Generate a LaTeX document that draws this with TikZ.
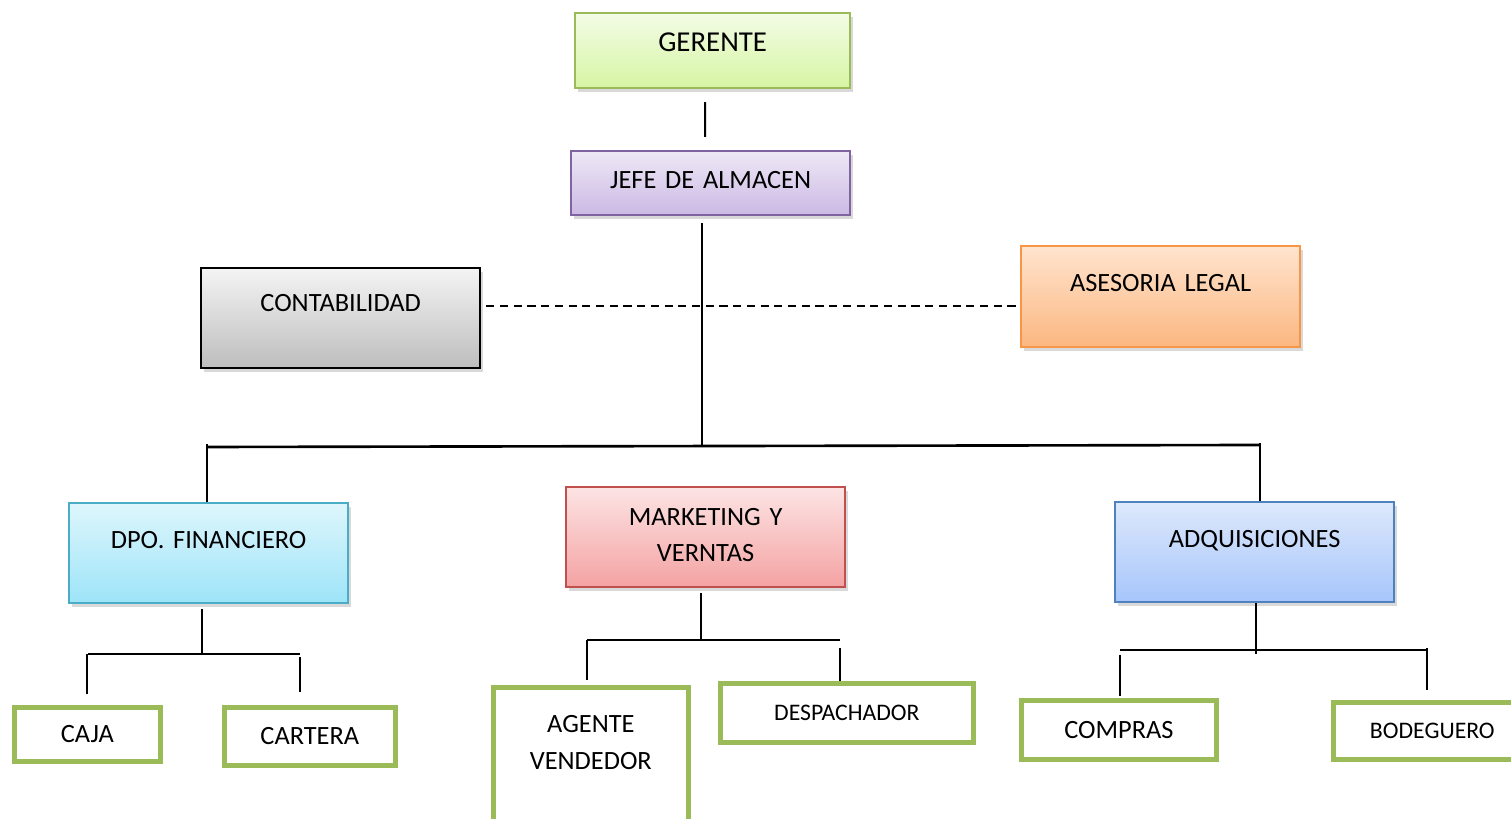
\documentclass[tikz,border=0pt]{standalone}
\usepackage{fontspec}
\setmainfont{Carlito}
\usepackage{tikz}
\usetikzlibrary{shadows}

\definecolor{gerA}{HTML}{F3FCE6}
\definecolor{gerB}{HTML}{D6F5A3}
\definecolor{gerC}{HTML}{9BBB59}
\definecolor{jefA}{HTML}{EEE8F6}
\definecolor{jefB}{HTML}{CBB9E4}
\definecolor{jefC}{HTML}{8064A2}
\definecolor{conA}{HTML}{F4F4F4}
\definecolor{conB}{HTML}{BDBDBD}
\definecolor{aseA}{HTML}{FFE4CE}
\definecolor{aseB}{HTML}{FBB781}
\definecolor{aseC}{HTML}{F79646}
\definecolor{finA}{HTML}{DEF6FC}
\definecolor{finB}{HTML}{9DE4F8}
\definecolor{finC}{HTML}{4BACC6}
\definecolor{mktA}{HTML}{FDE4E4}
\definecolor{mktB}{HTML}{F4A2A2}
\definecolor{mktC}{HTML}{C0504D}
\definecolor{adqA}{HTML}{DDE8FB}
\definecolor{adqB}{HTML}{A6C6FB}
\definecolor{adqC}{HTML}{4F81BD}
\definecolor{verde}{HTML}{9BBB59}

\begin{document}
\begin{tikzpicture}[x=0.01cm, y=-0.01cm,
	cargo/.style={draw, anchor=north west, align=center, inner xsep=0pt, text height=0.2cm,
		font=\fontsize{7.5}{10.5}\selectfont, line width=0.6pt,
		drop shadow={shadow xshift=0.8pt, shadow yshift=-1.2pt, opacity=0.3}},
	puesto/.style={draw=verde, line width=1.3pt, fill=white, anchor=north west, align=center,
		inner sep=0pt, font=\fontsize{7.5}{10.5}\selectfont},
	linea/.style={line width=0.6pt},
	barra/.style={line width=0.75pt},
	punteado/.style={line width=0.75pt, dash pattern=on 2.3pt off 1.6pt}]
	\useasboundingbox (0,0) rectangle (1511,819);

	\node[cargo, top color=gerA, bottom color=gerB, draw=gerC, text width=2.75cm, inner ysep=0.18cm, text depth=0.19cm, font=\fontsize{8.2}{10}\selectfont] (gerente) at (574,12) {GERENTE};
	\node[cargo, top color=jefA, bottom color=jefB, draw=jefC, text width=2.79cm, inner ysep=0.17cm, text depth=0.10cm] (jefe) at (570,150) {JEFE DE ALMACEN};
	\node[cargo, top color=conA, bottom color=conB, draw=black, text width=2.79cm, inner ysep=0.23cm, text depth=0.34cm] (contabilidad) at (200,267) {CONTABILIDAD};
	\node[cargo, top color=aseA, bottom color=aseB, draw=aseC, text width=2.79cm, inner ysep=0.25cm, text depth=0.31cm] (asesoria) at (1020,245) {ASESORIA LEGAL};
	\node[cargo, top color=finA, bottom color=finB, draw=finC, text width=2.79cm, inner ysep=0.25cm, text depth=0.30cm] (financiero) at (68,502) {DPO. FINANCIERO};
	\node[cargo, top color=mktA, bottom color=mktB, draw=mktC, text width=2.79cm, inner ysep=0.18cm, text depth=0.44cm] (marketing) at (565,486) {MARKETING Y\\VERNTAS};
	\node[cargo, top color=adqA, bottom color=adqB, draw=adqC, text width=2.79cm, inner ysep=0.25cm, text depth=0.30cm] (adquisiciones) at (1114,501) {ADQUISICIONES};

	\node[puesto, text width=1.46cm, minimum height=0.54cm] (caja) at (12,705) {CAJA};
	\node[puesto, text width=1.71cm, minimum height=0.58cm] (cartera) at (222,705) {CARTERA};
	\node[puesto, text width=1.95cm, inner ysep=0.25cm, text height=0.2cm, text depth=0.9cm] (agente) at (491,685) {AGENTE\\VENDEDOR};
	\node[puesto, text width=2.53cm, minimum height=0.59cm, font=\fontsize{6.75}{9}\selectfont] (despachador) at (718,681) {DESPACHADOR};
	\node[puesto, text width=1.95cm, minimum height=0.59cm] (compras) at (1019,698) {COMPRAS};
	\node[puesto, text width=1.98cm, minimum height=0.57cm, font=\fontsize{6.75}{9}\selectfont] (bodeguero) at (1331,700) {BODEGUERO};

	\coordinate (jA) at (702,447);
	\coordinate (jI) at (207,447);
	\coordinate (jD) at (1260,445);
	\coordinate (lg) at (0,306);
	\coordinate (fA) at (202,654);
	\coordinate (fI) at (88,654);
	\coordinate (fD) at (300,654);
	\coordinate (mA) at (701,640);
	\coordinate (mI) at (587,640);
	\coordinate (mD) at (840,640);
	\coordinate (aA) at (1256,650);
	\coordinate (aI) at (1120,650);
	\coordinate (aD) at (1427,650);

	\draw[linea, shorten <=0.13cm, shorten >=0.13cm] ([xshift=-0.075cm]gerente.south) -- ([xshift=-0.055cm]jefe.north);
	\draw[linea, shorten <=0.07cm] (jefe.south -| jA) -- (jA);
	\draw[barra] (jI) -- (jD);
	\draw[linea] ([yshift=0.03cm]jI) -- (financiero.north -| jI);
	\draw[linea] ([yshift=0.02cm]jD) -- (adquisiciones.north -| jD);
	\draw[punteado, shorten <=0.05cm] (contabilidad.east |- lg) -- (asesoria.west |- lg);

	\draw[linea, shorten <=0.05cm] (financiero.south -| fA) -- (fA);
	\draw[barra] (fI) -- (fD);
	\draw[linea, shorten >=0.11cm] (fI -| caja.north) -- (caja.north);
	\draw[linea, shorten <=0.03cm, shorten >=0.13cm] (fD) -- (cartera.north -| fD);

	\draw[linea, shorten <=0.05cm] (marketing.south -| mA) -- (mA);
	\draw[barra] (mI) -- (mD);
	\draw[linea, shorten >=0.05cm] (mI) -- (agente.north -| mI);
	\draw[linea, shorten <=0.08cm] (mD) -- (despachador.north -| mD);

	\draw[linea] (adquisiciones.south -| aA) -- ([yshift=-0.04cm]aA);
	\draw[barra] (aI) -- (aD);
	\draw[linea, shorten <=0.05cm, shorten >=0.02cm] (aI) -- (compras.north -| aI);
	\draw[linea, shorten >=0.1cm] ([yshift=0.02cm]aD) -- (bodeguero.north -| aD);

\end{tikzpicture}
\end{document}
